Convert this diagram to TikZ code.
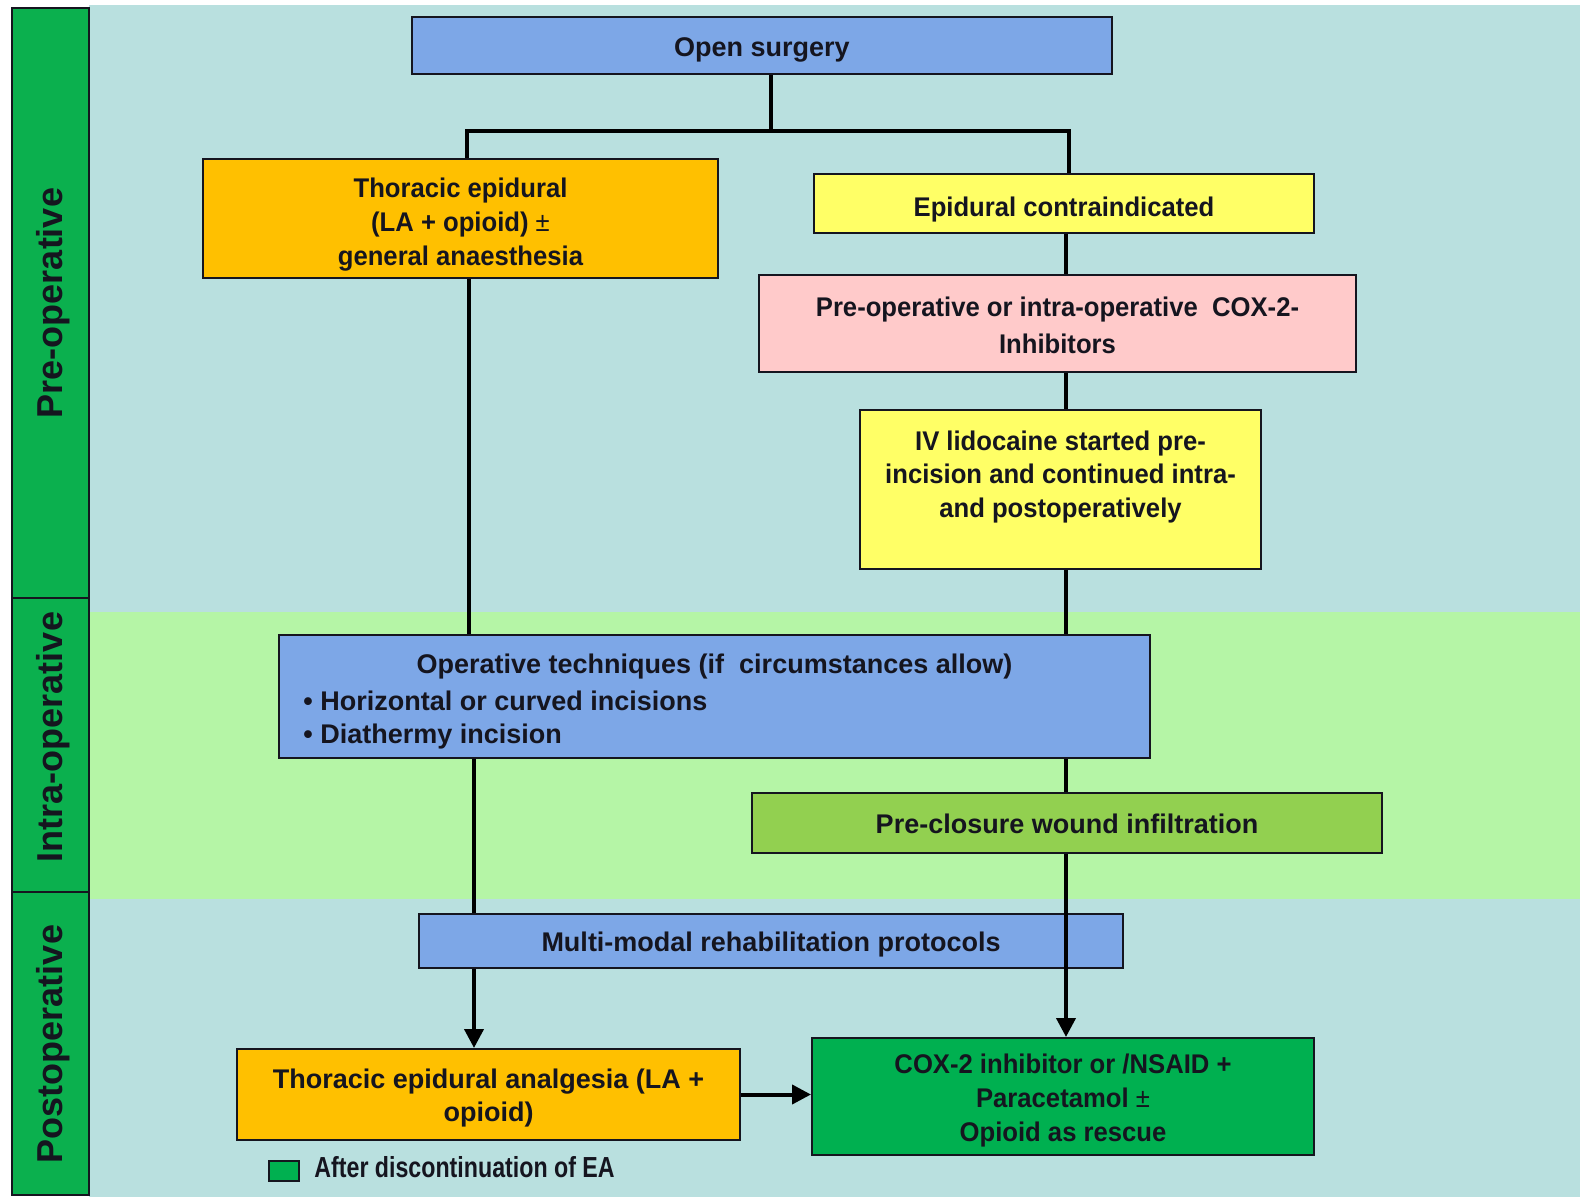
\documentclass[tikz,border=0pt]{standalone}
\usepackage{fontspec}
\setmainfont{Liberation Sans}
\newfontfamily\narrowfont[FakeStretch=0.8]{Liberation Sans}
\newfontfamily\slimfont[FakeStretch=0.95]{Liberation Sans}
\usetikzlibrary{arrows.meta}
\definecolor{bgblue}{HTML}{B9E0DF}
\definecolor{bggreen}{HTML}{B5F5A6}
\definecolor{sidegreen}{HTML}{0BB04E}
\definecolor{boxblue}{HTML}{7DA7E7}
\definecolor{boxorange}{HTML}{FFC000}
\definecolor{boxyellow}{HTML}{FFFF66}
\definecolor{boxpink}{HTML}{FFCACA}
\definecolor{boxlime}{HTML}{92D050}
\definecolor{boxgreen}{HTML}{00B050}
\definecolor{inkc}{HTML}{15151F}
\newcommand\bxfont{\fontsize{13.5}{16.9}\selectfont\bfseries}
\newcommand\slfont{\slimfont\fontsize{13.5}{16.9}\selectfont\bfseries}
\newcommand\sdfont{\fontsize{18}{21}\selectfont\bfseries}
\newcommand\lgfont{\narrowfont\fontsize{14.5}{17}\selectfont\bfseries}
\tikzset{
  box/.style={draw=inkc, line width=1pt, inner sep=0pt},
  sz/.style 2 args={minimum width=#1, minimum height=#2},
  txt/.style={text=inkc, font=\bxfont, align=center, inner sep=0pt},
  stxt/.style={txt, font=\slfont},
  sidebox/.style={draw=inkc, line width=1pt, fill=sidegreen, inner sep=0pt},
  sidelabel/.style={rotate=90, text=inkc, font=\sdfont, inner sep=0pt},
  conn/.style={draw=black, line width=2pt},
  arr/.style={conn, -{Triangle[length=9.5pt,width=9.5pt]}}
}
\begin{document}
\begin{tikzpicture}[x=0.5pt,y=-0.5pt]
\useasboundingbox (0,0) rectangle (1580,1197);
\fill[white] (0,0) rectangle (1580,1197);
% background bands
\fill[bgblue] (89,5) rectangle (1580,1197);
\fill[bggreen] (89,612) rectangle (1580,899);
% sidebar
\node[sidebox, sz={38.5pt}{295pt}] (side1) at (50.5,303) {};
\node[sidebox, sz={38.5pt}{147pt}] (side2) at (50.5,745) {};
\node[sidebox, sz={38.5pt}{151.5pt}] (side3) at (50.5,1043.5) {};
\node[sidelabel] (lab1) at (53,303) {Pre-operative};
\node[sidelabel] (lab2) at (53,737) {Intra-operative};
\node[sidelabel] (lab3) at (53,1044) {Postoperative};
% boxes
\node[box, fill=boxblue, sz={350pt}{28.5pt}] (open) at (762,45.5) {};
\node[txt] (opentx) at ([yshift=-2pt]open.center) {Open surgery};
\node[box, fill=boxorange, sz={257.5pt}{59.5pt}] (thor) at (460.5,218.5) {};
\node[stxt] (thortx) at ([yshift=-3pt]thor.center) {Thoracic epidural\\(LA + opioid) {\mdseries\textpm}\\general anaesthesia};
\node[box, fill=boxyellow, sz={250pt}{29.5pt}] (contra) at (1064,203.5) {};
\node[stxt] (contratx) at ([yshift=-3pt]contra.center) {Epidural contraindicated};
\node[box, fill=boxpink, sz={298.5pt}{48.5pt}] (coxpre) at (1057.5,323.5) {};
\node[stxt] (coxpretx) at ([yshift=-1pt]coxpre.center) {Pre-operative or intra-operative\ \ COX-2-\\[1.5pt]Inhibitors};
\node[box, fill=boxyellow, sz={200.5pt}{79.5pt}] (lido) at (1060.5,489.5) {};
\node[stxt] (lidotx) at (1060.5,477) {IV lidocaine started pre-\\incision and continued intra-\\and postoperatively};
\node[box, fill=boxblue, sz={435.5pt}{61.5pt}] (oper) at (714.5,696.5) {};
\node[txt] (opt) at (714.5,667) {Operative techniques (if\ \ circumstances allow)};
\node[txt, anchor=west] (opb1) at (303,701) {\textbullet\ Horizontal or curved incisions};
\node[txt, anchor=west] (opb2) at (303,737) {\textbullet\ Diathermy incision};
\node[box, fill=boxlime, sz={315pt}{30pt}] (preclos) at (1067,823) {};
\node[txt] (preclostx) at ([yshift=-0.5pt]preclos.center) {Pre-closure wound infiltration};
\node[box, fill=boxblue, sz={352pt}{27pt}] (multi) at (771,941) {};
\node[txt] (multitx) at ([yshift=-2pt]multi.center) {Multi-modal rehabilitation protocols};
\node[box, fill=boxorange, sz={251.5pt}{45.5pt}] (tea) at (488.5,1094.5) {};
\node[txt] (teatx) at ([yshift=-1.8pt]tea.center) {Thoracic epidural analgesia (LA +\\opioid)};
\node[box, fill=boxgreen, sz={251pt}{58.5pt}] (coxpost) at (1063,1096.5) {};
\node[stxt] (coxposttx) at ([yshift=-2pt]coxpost.center) {COX-2 inhibitor or /NSAID +\\Paracetamol {\mdseries\textpm}\\Opioid as rescue};
% legend
\node[draw=inkc, line width=1pt, fill=boxgreen, sz={15pt}{10pt}, inner sep=0pt] (legsq) at (284,1171) {};
\node[anchor=west, text=inkc, font=\lgfont, inner sep=0pt] (legtx) at (314,1167) {After discontinuation of EA};
% connectors
\coordinate (jm) at (771,131);
\coordinate (jl) at (467,131);
\coordinate (jr) at (1069,131);
\coordinate (rx) at (1066,0);
\coordinate (lx1) at (469,0);
\coordinate (lx2) at (474,0);
\draw[conn] (open.south -| jm) -- (jm);
\draw[conn] (thor.north -| jl) -- (jl) -- (jr) -- (contra.north -| jr);
\draw[conn] (contra.south -| rx) -- (coxpre.north -| rx);
\draw[conn] (coxpre.south -| rx) -- (lido.north -| rx);
\draw[conn] (lido.south -| rx) -- (oper.north -| rx);
\draw[conn] (oper.south -| rx) -- (preclos.north -| rx);
\draw[arr] (preclos.south -| rx) -- (coxpost.north -| rx);
\draw[conn] (thor.south -| lx1) -- (oper.north -| lx1);
\draw[conn] (oper.south -| lx2) -- (multi.north -| lx2);
\draw[arr] (multi.south -| lx2) -- (tea.north -| lx2);
\draw[arr] (tea.east) -- (coxpost.west |- tea.east);
\end{tikzpicture}
\end{document}
